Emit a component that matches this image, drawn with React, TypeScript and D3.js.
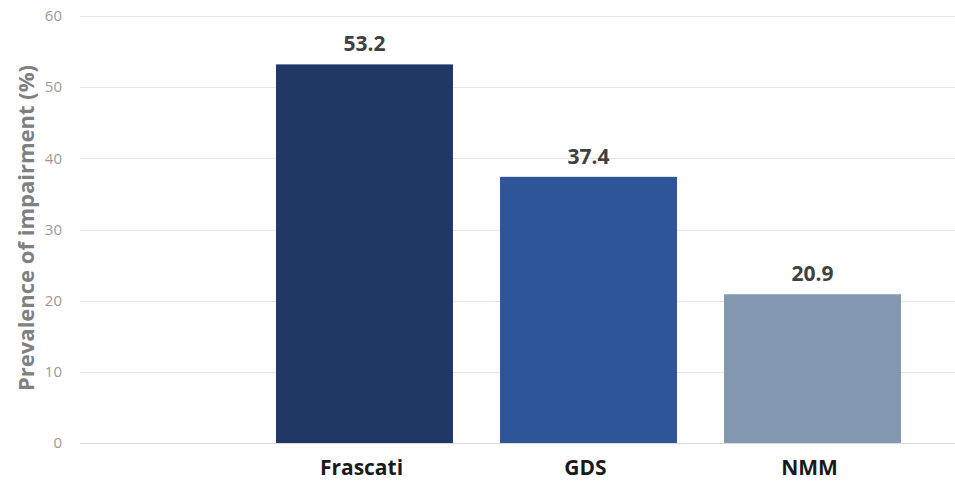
import React, { useEffect, useRef } from "react";
import * as d3 from "d3";

const categories = ["Frascati", "GDS", "NMM"];
const prevalence = [53.2, 37.4, 20.9];
const barColors = ["#203864", "#2e5597", "#8497b0"];
const yTicks = [0, 10, 20, 30, 40, 50, 60];
const yTitle = "Prevalence of impairment (%)";

const W = 955;
const H = 482;

export default function App() {
  const ref = useRef<SVGSVGElement>(null);

  useEffect(() => {
    const svg = d3.select(ref.current);
    svg.selectAll("*").remove();

    const y = d3.scaleLinear().domain([0, 60]).range([443, 16]);
    const x = d3
      .scaleBand<string>()
      .domain(categories)
      .range([252.5, 924.5])
      .paddingInner(0.21)
      .paddingOuter(0.105);

    const font = "'Open Sans', 'Noto Sans', sans-serif";

    // gridlines
    svg
      .append("g")
      .selectAll("line")
      .data(yTicks)
      .join("line")
      .attr("x1", 80)
      .attr("x2", W)
      .attr("y1", (d) => Math.round(y(d)) + 0.5)
      .attr("y2", (d) => Math.round(y(d)) + 0.5)
      .attr("stroke", (d) => (d === 0 ? "#d9d9d9" : "#e6e6e6"))
      .attr("stroke-width", 1);

    // y tick labels
    svg
      .append("g")
      .selectAll("text")
      .data(yTicks)
      .join("text")
      .attr("x", 62)
      .attr("y", (d) => y(d))
      .attr("dy", "0.35em")
      .attr("text-anchor", "end")
      .attr("font-family", font)
      .attr("font-size", 15)
      .attr("fill", "#9a9a9a")
      .text((d) => d);

    // y axis title
    svg
      .append("text")
      .attr("transform", `translate(34,228) rotate(-90)`)
      .attr("text-anchor", "middle")
      .attr("font-family", font)
      .attr("font-weight", 700)
      .attr("font-size", 22)
      .attr("fill", "#808080")
      .text(yTitle);

    const data = categories.map((c, i) => ({ c, v: prevalence[i], color: barColors[i] }));

    // bars
    svg
      .append("g")
      .selectAll("rect")
      .data(data)
      .join("rect")
      .attr("x", (d) => x(d.c)!)
      .attr("width", x.bandwidth())
      .attr("y", (d) => y(d.v))
      .attr("height", (d) => y(0) - y(d.v))
      .attr("fill", (d) => d.color);

    // value labels
    svg
      .append("g")
      .selectAll("text")
      .data(data)
      .join("text")
      .attr("x", (d) => x(d.c)! + x.bandwidth() / 2)
      .attr("y", (d) => y(d.v) - 13)
      .attr("text-anchor", "middle")
      .attr("font-family", font)
      .attr("font-weight", 700)
      .attr("font-size", 21)
      .attr("fill", "#404040")
      .text((d) => d.v.toFixed(1));

    // category labels
    svg
      .append("g")
      .selectAll("text")
      .data(data)
      .join("text")
      .attr("x", (d) => x(d.c)! + x.bandwidth() / 2 - 3)
      .attr("y", 475)
      .attr("text-anchor", "middle")
      .attr("font-family", font)
      .attr("font-weight", 700)
      .attr("font-size", 21)
      .attr("fill", "#1a1a1a")
      .text((d) => d.c);
  }, []);

  return (
    <svg
      ref={ref}
      width={W}
      height={H}
      style={{ position: "absolute", left: 0, top: 0, background: "#fff" }}
    />
  );
}
